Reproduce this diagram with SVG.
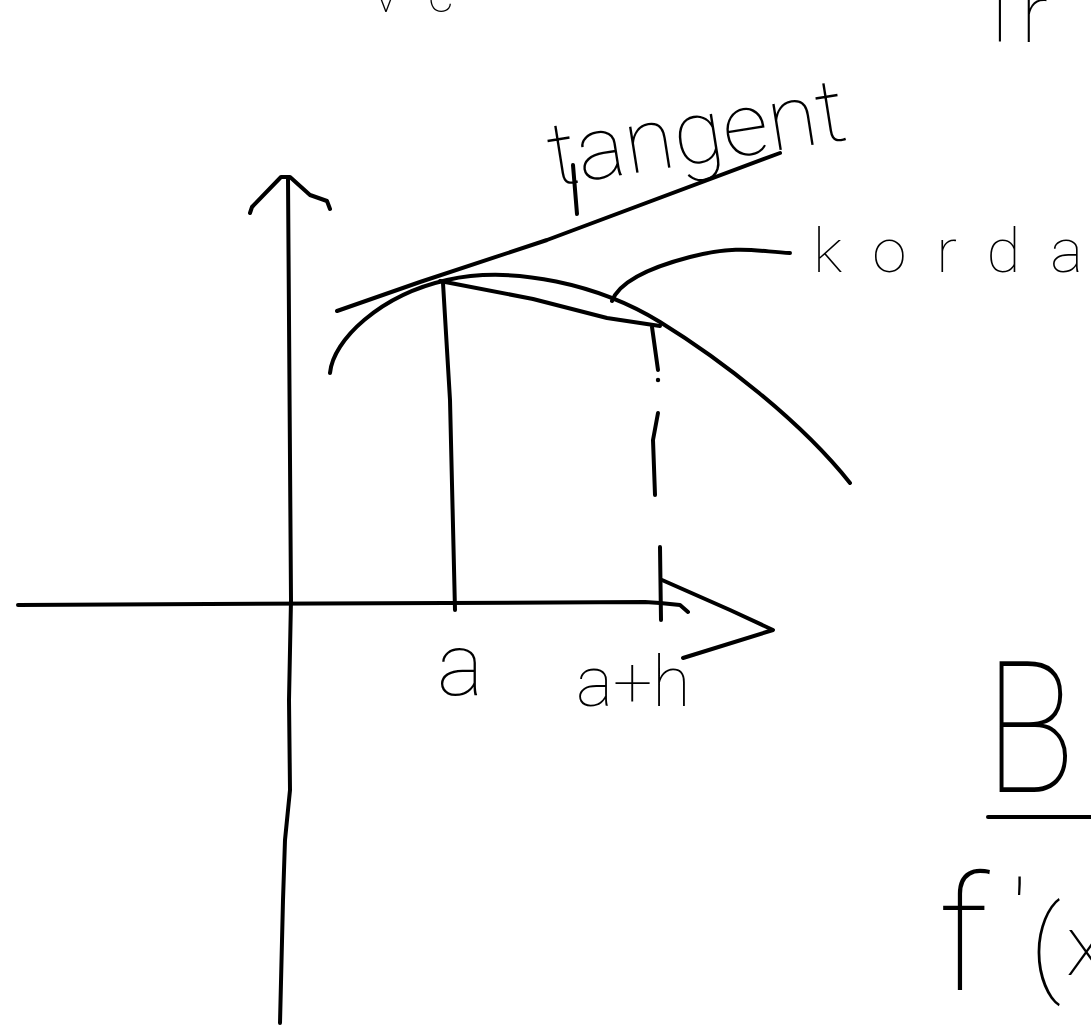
<svg xmlns="http://www.w3.org/2000/svg" width="1091" height="1031" viewBox="0 0 1091 1031">
<style>
.s{fill:none;stroke:#000;stroke-width:4;stroke-linecap:round;stroke-linejoin:round}
.t{font-family:Roboto,Lato,"Open Sans","Noto Sans",sans-serif;font-weight:100;fill:#000}
</style>
<rect width="1091" height="1031" fill="#fff"/>
<g id="axes">
<polyline class="s" points="288,178 291,600 289,700 290,790 285,840 283,900 280,1023"/>
<polyline class="s" points="250,213 252,207 281,177 290,177 310,195 327,201 330,209"/>
<polyline class="s" points="18,605 645,602 660,603 680,605 688,612"/>
<polyline class="s" points="660,547 661,620"/>
<polyline class="s" points="662,580 730,610 773,630 683,658"/>
</g>
<g id="curve">
<path class="s" d="M330,373 C333,340 380,295 447,280 S600,285 660,322 S800,420 850,483"/>
</g>
<g id="tangent-line">
<polyline class="s" points="337,311 420,282 547,240 780,153"/>
</g>
<g id="chord">
<polyline class="s" points="440,281 533,299 607,318 660,326"/>
</g>
<g id="verticals">
<polyline class="s" points="443,283 450,400 455,610"/>
<polyline class="s" points="652,327 658,370"/>
<circle cx="658" cy="380" r="2.2" fill="#000"/>
<polyline class="s" points="658,413 653,440 655,495"/>
</g>
<g id="connectors">
<line class="s" x1="573" y1="165" x2="577" y2="214"/>
<path class="s" d="M612,301 C618,285 640,270 690,257 S760,252 790,253"/>
</g>
<g id="labels">
<text class="t" font-size="88" transform="translate(553,186) rotate(-9)" textLength="300" lengthAdjust="spacingAndGlyphs">tangent</text>
<text class="t" x="813" y="272" font-size="62" textLength="270" lengthAdjust="spacing">korda</text>
<text class="t" x="437" y="695" font-size="88">a</text>
<text class="t" x="576" y="706" font-size="70">a+h</text>
<text class="t" x="985" y="792" font-size="184" textLength="90" lengthAdjust="spacingAndGlyphs">B</text>
<line class="s" x1="988" y1="817" x2="1091" y2="817"/>
<text class="t" x="938" y="990" font-size="160">f</text>
<text class="t" x="1012" y="945" font-size="90">′</text>
<text class="t" x="1030" y="982" font-size="105">(</text>
<text class="t" x="1066" y="975" font-size="85">x</text>
<text class="t" x="976" y="42" font-size="80">Tr</text>
<text class="t" x="374" y="12" font-size="50">v</text>
<text class="t" x="428" y="12" font-size="50">c</text>
</g>
</svg>
